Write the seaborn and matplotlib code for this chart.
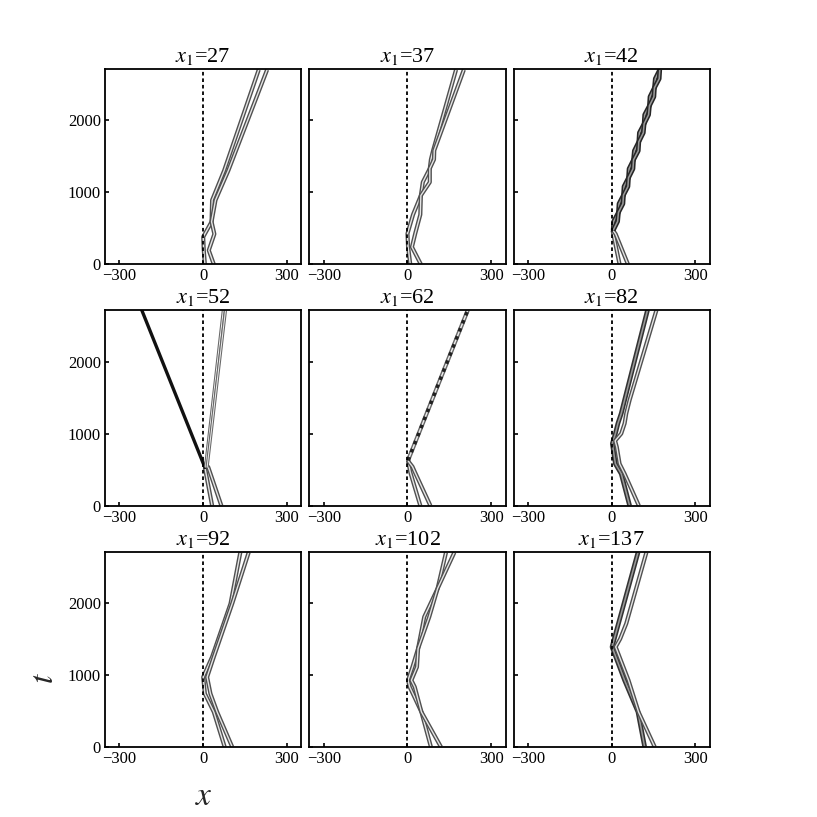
import numpy as np
import pandas as pd
import matplotlib
matplotlib.use('Agg')
import matplotlib.pyplot as plt
import seaborn as sns

sns.set_style('ticks')
plt.rcParams['font.family'] = ['Liberation Serif', 'DejaVu Serif']
plt.rcParams['mathtext.fontset'] = 'stix'

# soliton tracks: (x, t) vertices per track
x1_values = [27, 37, 42, 52, 62, 82, 92, 102, 137]

p27_left_x = [6, 2, 0, 30, 32, 75, 199]
p27_left_t = [0, 200, 380, 590, 890, 1300, 2700]
p27_right_x = [38, 20, 40, 30, 44, 90, 229]
p27_right_t = [0, 194, 420, 590, 890, 1300, 2700]

p37_left_x = [10, 2, 0, 20, 48, 55, 80, 84, 92, 174]
p37_left_t = [0, 250, 425, 690, 955, 1140, 1330, 1455, 1580, 2700]
p37_right_x = [48, 16, 28, 46, 48, 80, 80, 95, 96, 202]
p37_right_t = [0, 240, 430, 690, 955, 1140, 1330, 1455, 1580, 2700]

p42_in_left_x = [28, 3]
p42_in_left_t = [0, 470]
p42_in_right_x = [58, 14, 5]
p42_in_right_t = [0, 420, 470]
p42_left_x = [5, 7, 24, 26, 42, 44, 60, 62, 78, 81, 97, 99, 116, 118, 135, 137, 153, 156, 172]
p42_right_x = [5, 21, 24, 40, 42, 58, 60, 76, 78, 95, 97, 113, 116, 132, 135, 151, 153, 170, 172]
p42_braid_t = [470, 595, 720, 840, 960, 1080, 1200, 1325, 1450, 1575, 1700, 1825, 1950,
               2075, 2200, 2325, 2450, 2575, 2700]

p52_left_x = [32, 6]
p52_left_t = [0, 530]
p52_right_x = [65, 18, 10]
p52_right_t = [0, 535, 560]
p52_dark_x = [6, -220]
p52_dark_t = [530, 2712]
p52_out1_x = [8, 72]
p52_out2_x = [14, 80]
p52_out_t = [530, 2712]

p62_left_x = [46, 10, 2]
p62_left_t = [0, 465, 628]
p62_right_x = [82, 26, 18, 6, 2]
p62_right_t = [0, 470, 540, 600, 628]
p62_rope_x = [2, 216]
p62_rope_t = [628, 2712]

p82_left_x = [64, 34, 13, 4, 2, 13, 22, 34, 46, 128]
p82_left_t = [0, 442, 581, 814, 860, 1000, 1140, 1280, 1465, 2712]
p82_right_x = [97, 46, 28, 18, 12, 34, 46, 52, 64, 160]
p82_right_t = [0, 442, 581, 814, 900, 1000, 1140, 1280, 1465, 2712]

p92_left_x = [77, 38, 6, 0, 32, 98, 133]
p92_left_t = [0, 486, 740, 970, 1250, 1990, 2700]
p92_right_x = [104, 50, 26, 14, 38, 104, 163]
p92_right_t = [0, 486, 740, 970, 1250, 1990, 2700]

p102_left_x = [84, 50, 8, 2, 18, 38, 60, 108, 138]
p102_right_x = [120, 50, 26, 14, 34, 38, 78, 108, 168]
p102_t = [0, 486, 833, 926, 1111, 1366, 1805, 2199, 2700]

p137_left_x = [118, 94, 46, 1, 94]
p137_left_t = [0, 486, 926, 1389, 2700]
p137_right_x = [154, 96, 60, 14, 30, 52, 124]
p137_right_t = [0, 486, 926, 1389, 1500, 1713, 2700]

x_ticks = [-300, 0, 300]
t_ticks = [0, 1000, 2000]


def line(ax, xs, ts, color, lw, **kw):
    df = pd.DataFrame({'x': xs, 't': ts})
    sns.lineplot(data=df, x='x', y='t', sort=False, estimator=None, ax=ax,
                 color=color, linewidth=lw, legend=False, **kw)


def tube(ax, xs, ts, dark='#505050', light='#e6e6e6', lw=3.0):
    line(ax, xs, ts, dark, lw, solid_capstyle='butt', solid_joinstyle='round')
    line(ax, xs, ts, light, lw * 0.33, solid_capstyle='butt', solid_joinstyle='round')


fig, axes = plt.subplots(3, 3, figsize=(8.17, 8.17), dpi=100)
fig.subplots_adjust(left=0.1285, right=0.869, top=0.9155, bottom=0.0857,
                    wspace=0.04, hspace=0.236)
axes = axes.flatten()

# x1 = 27
ax = axes[0]
tube(ax, p27_left_x, p27_left_t)
tube(ax, p27_right_x, p27_right_t)
# x1 = 37
ax = axes[1]
tube(ax, p37_left_x, p37_left_t)
tube(ax, p37_right_x, p37_right_t)
# x1 = 42
ax = axes[2]
tube(ax, p42_in_left_x, p42_in_left_t)
tube(ax, p42_in_right_x, p42_in_right_t)
tube(ax, p42_left_x, p42_braid_t, dark='#262626', light='#9a9a9a', lw=3.4)
tube(ax, p42_right_x, p42_braid_t, dark='#262626', light='#9a9a9a', lw=3.4)
# x1 = 52
ax = axes[3]
tube(ax, p52_left_x, p52_left_t)
tube(ax, p52_right_x, p52_right_t)
line(ax, p52_dark_x, p52_dark_t, '#111111', 2.4)
tube(ax, p52_out1_x, p52_out_t, dark='#666666', light='#eeeeee', lw=2.2)
tube(ax, p52_out2_x, p52_out_t, dark='#666666', light='#eeeeee', lw=2.2)
# x1 = 62
ax = axes[4]
tube(ax, p62_left_x, p62_left_t)
tube(ax, p62_right_x, p62_right_t)
tube(ax, p62_rope_x, p62_rope_t, dark='#666666', light='#eeeeee', lw=3.0)
line(ax, p62_rope_x, p62_rope_t, '#222222', 2.6, dashes=(1.0, 1.4))
# x1 = 82
ax = axes[5]
tube(ax, p82_left_x, p82_left_t, dark='#333333', light='#999999', lw=3.4)
tube(ax, p82_right_x, p82_right_t)
# x1 = 92
ax = axes[6]
tube(ax, p92_left_x, p92_left_t)
tube(ax, p92_right_x, p92_right_t)
# x1 = 102
ax = axes[7]
tube(ax, p102_left_x, p102_t)
tube(ax, p102_right_x, p102_t)
# x1 = 137
ax = axes[8]
tube(ax, p137_left_x, p137_left_t, dark='#333333', light='#999999', lw=3.4)
tube(ax, p137_right_x, p137_right_t)

for i, ax in enumerate(axes):
    ax.axvline(0, color='black', lw=1.3, linestyle=(0, (2, 1.6)), zorder=5)
    ax.set_xlim(-352, 352)
    ax.set_ylim(0, 2710)
    ax.set_xticks(x_ticks)
    ax.set_yticks(t_ticks)
    ax.set_xlabel('')
    ax.set_ylabel('')
    ax.tick_params(direction='in', length=3, width=1.2, labelsize=12,
                   color='black', labelcolor='black', top=False, right=False)
    ax.tick_params(axis='x', pad=3)
    ax.tick_params(axis='y', pad=3)
    if i % 3 != 0:
        ax.set_yticklabels([])
    for s in ax.spines.values():
        s.set_linewidth(1.3)
        s.set_color('black')
        s.set_visible(True)
    ax.set_title(r'$x_1$=%d' % x1_values[i], fontsize=16, pad=5, color='black')

fig.text(0.055, 0.17, r'$t$', fontsize=24, rotation=90, ha='center', va='center')
fig.text(0.25, 0.025, r'$x$', fontsize=24, ha='center', va='center')

fig.savefig('out.png', dpi=100)
